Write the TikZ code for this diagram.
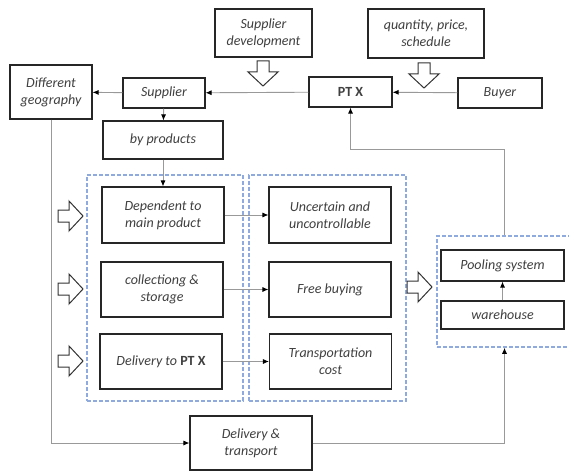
\documentclass[tikz,border=0pt]{standalone}
\usepackage{fontspec}
\setmainfont{Carlito}
\usetikzlibrary{arrows.meta}
\definecolor{dashblue}{HTML}{8FAADC}
\tikzset{
  box/.style={draw=black!85,line width=1.1pt,fill=white,align=center,inner sep=1pt,
    text=black!75,font=\fontsize{14}{17}\selectfont\itshape},
  grp/.style={draw=dashblue,line width=1.5pt,dash pattern=on 4pt off 2pt,inner sep=0pt},
  conn/.style={draw=black!40,line width=0.9pt},
  tip/.style={-{Latex[length=6pt,width=5pt,black]}},
  hollow/.style={draw=black!80,line width=1pt,fill=white,line join=miter}
}
\newcommand{\ptx}{\textbf{\upshape PT X}}
\begin{document}
\begin{tikzpicture}[x=1pt,y=-1pt]
\useasboundingbox (0,0) rectangle (569,473);
% dashed groups
\node[grp,minimum width=156,minimum height=226] (leftgrp) at (165,288) {};
\node[grp,minimum width=157,minimum height=226] (rightgrp) at (327.5,288) {};
\node[grp,minimum width=135,minimum height=111] (poolgrp) at (504.5,291.5) {};
% top row
\node[box,minimum width=82,minimum height=54] (geo) at (51,92) {Different\\geography};
\node[box,minimum width=82,minimum height=30] (supplier) at (164,93) {Supplier};
\node[box,minimum width=97,minimum height=48] (supdev) at (263.5,33) {Supplier\\development};
\node[box,minimum width=116,minimum height=49] (qps) at (426,33.5) {quantity, price,\\schedule};
\node[box,minimum width=83,minimum height=30] (ptx) at (350.5,92) {\ptx};
\node[box,minimum width=84,minimum height=30] (buyer) at (500,93) {Buyer};
\node[box,minimum width=120,minimum height=38] (byprod) at (163,140) {by products};
% middle
\node[box,minimum width=122,minimum height=56] (dep) at (163,215) {Dependent to\\main product};
\node[box,minimum width=122,minimum height=55] (coll) at (162,289.5) {collectiong \&\\storage};
\node[box,minimum width=122,minimum height=55] (deliv) at (161,361.5) {Delivery to \ptx};
\node[box,minimum width=122,minimum height=56] (unc) at (330,215) {Uncertain and\\uncontrollable};
\node[box,minimum width=122,minimum height=55] (free) at (330,289.5) {Free buying};
\node[box,minimum width=122,minimum height=55] (trans) at (330.5,361.5) {Transportation\\cost};
% right
\node[box,minimum width=123,minimum height=31] (pool) at (502.5,265.5) {Pooling system};
\node[box,minimum width=123,minimum height=28] (ware) at (502.5,315) {warehouse};
% bottom
\node[box,minimum width=122,minimum height=54] (deltr) at (251,443) {Delivery \&\\transport};
% hollow arrows
\foreach \x/\y in {263/61,424/63}{
  \draw[hollow](\x-6,\y)--++(12,0)--++(0,11)--++(9,0)--(\x,\y+25)--(\x-15,\y+11)--++(9,0)--cycle;}
\foreach \x/\y in {58/216,58/289,58/361,407/287}{
  \draw[hollow](\x,\y-6)--++(11,0)--++(0,-9)--(\x+25,\y)--(\x+11,\y+15)--++(0,-9)--(\x,\y+6)--cycle;}
% connectors
\draw[conn,tip](buyer)--(ptx);
\draw[conn,tip](ptx)--(supplier);
\draw[conn,tip](supplier)--(geo);
\draw[conn,tip](supplier)--(byprod);
\draw[conn,tip](byprod)--(dep);
\draw[conn,tip](dep.east)--(unc.west);
\draw[conn,tip](coll.east)--(free.west);
\draw[conn,tip](deliv.east)--(trans.west);
\draw[conn,tip](ware)--(pool);
\draw[conn,tip](geo.south)|-(deltr.west);
\draw[conn,tip](deltr.east)-|(poolgrp.south);
\draw[conn,tip](poolgrp.north)--++(0,-86)-|(ptx.south);
\end{tikzpicture}
\end{document}
